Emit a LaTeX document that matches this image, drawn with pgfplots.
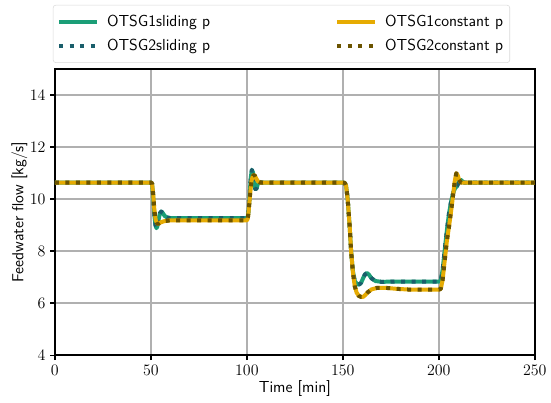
\documentclass[border=0pt]{standalone}
\usepackage{pgfplots}
\pgfplotsset{compat=1.18}
\usepackage{pgfplotstable}

\definecolor{cgreen}{HTML}{1B9E77}
\definecolor{cteal}{HTML}{1A5E6B}
\definecolor{corange}{HTML}{E6AB02}
\definecolor{cbrown}{HTML}{6B5300}
\definecolor{cgrid}{HTML}{B0B0B0}

% feedwater flow, sliding pressure
\pgfplotstableread{
t y
0 10.63
50 10.63
50.6 10.60
51.2 10.10
51.8 9.40
52.4 9.00
52.9 8.88
53.4 8.95
54.0 9.20
54.7 9.45
55.4 9.52
56.2 9.46
57.2 9.35
58.5 9.29
60 9.27
100 9.27
100.5 9.33
101.0 9.65
101.5 10.20
102.0 10.80
102.6 11.12
103.2 11.02
103.8 10.62
104.4 10.38
105.0 10.40
105.7 10.57
106.5 10.66
108 10.63
150 10.63
151 10.62
151.7 10.50
152.5 10.00
153.5 9.00
154.3 8.00
155.2 7.25
156.2 6.85
157.5 6.72
158.5 6.72
159.5 6.78
160.5 6.95
161.5 7.10
162.5 7.16
163.5 7.10
165 6.95
167 6.85
170 6.82
180 6.83
200 6.83
201 6.86
202 7.30
203 8.00
204.2 8.80
205.3 9.45
206.5 9.95
207.5 10.25
208.5 10.42
209.5 10.50
210.5 10.68
211.3 10.74
212 10.70
213 10.63
250 10.63
}\sliding

% feedwater flow, constant pressure
\pgfplotstableread{
t y
0 10.63
50 10.63
50.6 10.60
51.2 10.20
51.8 9.60
52.5 9.20
53.3 9.06
54.0 9.05
55 9.10
57 9.15
60 9.18
100 9.18
100.5 9.25
101.0 9.60
101.7 10.20
102.4 10.70
103.2 10.90
104.0 10.92
104.8 10.80
105.7 10.68
107 10.63
150 10.63
151 10.62
151.7 10.50
152.5 10.00
153.5 9.00
154.3 8.00
155.2 7.20
156.2 6.65
157.2 6.40
158.3 6.28
159.5 6.24
160.5 6.24
161.5 6.30
163 6.42
165 6.53
168 6.59
172 6.59
178 6.55
185 6.52
200 6.52
201 6.55
202 6.90
203 7.60
204.2 8.40
205.3 8.94
206.5 9.60
207.5 10.20
208.3 10.70
209.1 10.99
209.8 10.92
210.5 10.75
211.5 10.63
213 10.63
250 10.63
}\constant

\begin{document}
\begin{tikzpicture}
\begin{axis}[
    name=ax,
    scale only axis,
    width=360.75pt, height=215.25pt,
    xmin=0, xmax=250, ymin=4, ymax=15,
    xtick={0,50,...,250}, ytick={4,6,...,14},
    xtick pos=bottom, ytick pos=left,
    tick align=outside, major tick length=3.6pt,
    tick style={black, line width=1pt},
    axis line style={line width=1.8pt},
    grid=major, grid style={cgrid, line width=1.3pt},
    tick label style={font=\fontsize{12}{14}\selectfont},
    label style={font=\sffamily\fontsize{12}{14}\selectfont},
    xlabel={Time [min]},
    ylabel={Feedwater flow [kg/s]},
    xlabel style={yshift=3pt},
    ylabel style={yshift=-5pt},
    legend columns=2,
    legend image code/.code={\draw[#1] (0pt,0pt) -- (28.5pt,0pt);},
    legend style={at={(0,1)}, anchor=south west, xshift=-1.5pt, yshift=4.5pt,
        draw=black!15, rounded corners=2pt,
        font=\sffamily\fontsize{12}{14}\selectfont,
        inner ysep=5.5pt, inner xsep=3pt, row sep=4pt,
        /tikz/every odd column/.append style={column sep=4pt},
        /tikz/every even column/.append style={column sep=92pt}},
    every axis plot/.append style={line width=3pt, line join=round},
]
\addplot[cgreen, forget plot] table[x=t, y=y] {\sliding};
\addplot[cteal, dash pattern=on 3pt off 4.9pt, forget plot] table[x=t, y=y] {\sliding};
\addplot[corange, forget plot] table[x=t, y=y] {\constant};
\addplot[cbrown, dash pattern=on 3pt off 4.9pt, forget plot] table[x=t, y=y] {\constant};

\addlegendimage{cgreen, line width=3pt}
\addlegendentry{OTSG1sliding p}
\addlegendimage{corange, line width=3pt}
\addlegendentry{OTSG1constant p}
\addlegendimage{cteal, line width=3pt, dash pattern=on 3pt off 4.9pt}
\addlegendentry{OTSG2sliding p}
\addlegendimage{cbrown, line width=3pt, dash pattern=on 3pt off 4.9pt}
\addlegendentry{OTSG2constant p}
\end{axis}
\path ([xshift=-41.25pt, yshift=-35.25pt]ax.south west)
      ([xshift=11.25pt, yshift=51.75pt]ax.north east);
\end{tikzpicture}
\end{document}
